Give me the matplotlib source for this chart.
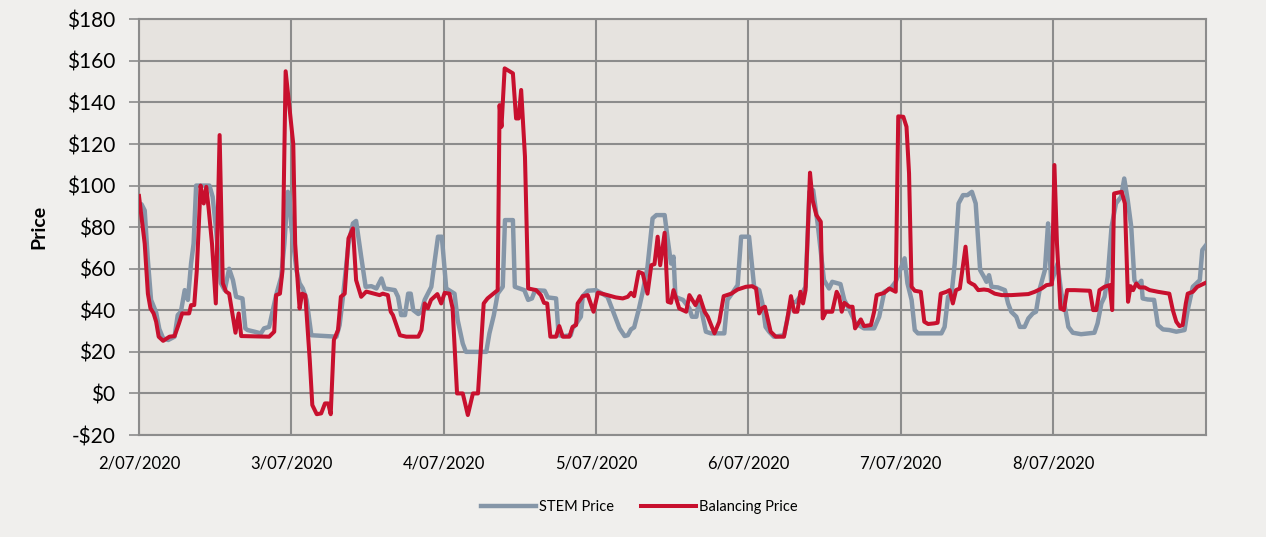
import matplotlib
matplotlib.use("Agg")
import matplotlib.pyplot as plt
from matplotlib.ticker import FuncFormatter

# hours since 2/07/2020 00:00
stem_hours = [0, 0.4, 0.9, 1.4, 1.9, 2.7, 3.2, 3.8, 4.6, 5.6, 6.1, 6.6, 7.2, 7.7, 8.2, 8.6, 9.0, 11.1, 11.6, 12.1,
              12.9, 13.5, 14.2, 14.8, 15.3, 16.3, 16.75, 17.1, 18.2, 19.2, 19.7, 20.5, 21.6, 22.4, 22.9, 23.45, 23.7, 24.0, 24.8, 25.3,
              25.8, 26.4, 27.15, 31.1, 31.6, 32.1, 33.0, 33.7, 34.2, 35.0, 35.7, 36.6, 37.4, 38.2, 38.7, 40.3, 40.8, 41.3, 41.9, 42.4,
              42.8, 43.2, 44.0, 44.5, 45.0, 46.05, 46.6, 47.1, 47.7, 48.4, 49.7, 50.2, 51.0, 51.5, 54.7, 55.2, 55.9, 56.5, 57.3, 57.65,
              58.9, 59.2, 60.7, 61.3, 61.9, 62.4, 63.9, 64.4, 65.7, 66.1, 67.0, 68.0, 68.3, 68.9, 69.6, 69.9, 70.7, 72.0, 73.8, 74.6,
              75.7, 76.5, 77.0, 77.5, 78.0, 78.7, 79.35, 80.1, 80.9, 81.5, 82.8, 83.3, 83.8, 84.2, 84.5, 85.1, 85.7, 86.7, 87.1, 87.8,
              88.3, 88.8, 89.3, 90.1, 92.2, 92.7, 93.4, 94.3, 94.85, 96.1, 96.9, 97.7, 98.2, 98.7, 99.25, 100.0, 101.6, 102.1, 102.7, 103.5,
              104.2, 105.0, 105.6, 106.2, 106.9, 107.9, 108.7, 109.2, 110.5, 111.1, 111.8, 112.9, 114.2, 115.8, 116.6, 117.4, 118.4, 119.2, 120.1, 120.6,
              121.05, 121.7, 122.2, 122.7, 126.4, 126.9, 127.45, 128.0, 128.5, 129.1, 129.8, 130.5, 131.2, 131.8, 132.5, 133.1, 133.5, 133.9, 134.3, 135.3,
              136.4, 136.9, 137.4, 138.2, 138.75, 139.5, 140.1, 140.8, 141.3, 141.9, 142.7, 143.2, 143.7, 144.7, 145.3, 145.8, 146.4, 147.1, 148.4, 150.5,
              151.0, 151.6, 152.1, 152.6, 153.2, 153.9, 154.7, 155.2, 155.75, 156.3, 156.8, 157.3, 157.9, 158.1, 158.9, 159.9, 160.5, 161.3, 162.3, 163.4,
              164.7, 165.2, 166.0, 167.1, 167.5, 168.0]
stem_price = [89, 91, 88, 64, 45, 39, 31, 26.5, 25.7, 27.3, 37.7, 39.3, 49.7, 45, 62.5, 72, 100, 100, 94.6, 80,
              53, 49.7, 60, 54.5, 46.5, 45.7, 31.3, 30.5, 29.7, 28.9, 31.3, 32, 47.3, 56, 72, 97, 94.6, 80, 59.3, 53,
              50.5, 45, 28, 27.3, 32.9, 45.7, 72, 81.8, 83, 65.8, 51.3, 51.6, 50.5, 55.3, 50.5, 49.7, 46.5, 37.7, 37.7, 48,
              48, 40.1, 38.2, 39.3, 45, 51.3, 64.2, 75.4, 75.4, 50.5, 48, 35.3, 24, 20, 20, 28.9, 37.7, 48, 51.3, 83.4,
              83.4, 51.3, 49.7, 45, 45.7, 49.7, 49.4, 46.2, 45.7, 28, 27.6, 28, 31.3, 33.7, 36.9, 46.8, 49.4, 49.7, 46.5, 40.1,
              31.3, 27.6, 28, 30.8, 31.8, 40.1, 48.9, 60.9, 84.2, 85.8, 85.8, 73.8, 62.5, 65.8, 46.5, 45.7, 45, 40.9, 36.9, 36.9,
              46.5, 36.9, 29.7, 28.9, 28.9, 45, 48, 52.1, 75.4, 75.4, 51.3, 49.7, 43.3, 32, 29.7, 27.3, 28, 35.3, 43.3, 44.1,
              46.8, 51.3, 97, 97.8, 81.8, 54.5, 50.5, 53.7, 52.6, 45, 40.9, 33.7, 31.3, 31.3, 36.9, 48.9, 50.5, 53.7, 61, 65,
              53, 45, 30.5, 28.9, 28.9, 32, 46.5, 48, 62.5, 91.4, 95.4, 95.4, 97, 91.4, 59.3, 56.1, 53.7, 56.9, 51.3, 51,
              49.7, 43.3, 39.3, 36.9, 32, 32, 36.1, 38.5, 39.3, 50.5, 59.3, 81.8, 53, 62.5, 48, 42.5, 32, 29.2, 28.5, 29.2,
              33.7, 43.3, 46.5, 56.1, 80.2, 91.4, 94.6, 103.4, 93, 80.2, 54.5, 52.1, 54.2, 45.7, 45.2, 45, 32.9, 30.8, 30.5, 29.7,
              30.5, 40.1, 51.3, 54.5, 69, 71]

bal_hours = [0, 0.9, 1.4, 1.8, 2.3, 2.7, 3.1, 3.8, 4.8, 5.6, 6.3, 6.8, 7.9, 8.2, 8.7, 9.1, 9.7, 10.2, 10.6, 11.0,
             11.5, 12.1, 12.7, 13.2, 13.7, 14.2, 15.2, 15.7, 16.1, 20.5, 21.3, 21.6, 22.2, 22.6, 23.1, 24.3, 24.6, 25.05, 25.3, 25.7,
             26.2, 26.9, 27.3, 28.0, 28.7, 29.3, 29.8, 30.2, 30.7, 31.35, 31.8, 32.4, 33.0, 33.7, 34.2, 35.0, 35.8, 37.9, 38.4, 39.2,
             39.65, 40.0, 41.1, 42.1, 44.0, 44.5, 45.0, 45.5, 46.0, 47.0, 47.6, 48.15, 48.9, 49.4, 50.1, 51.0, 51.8, 52.6, 53.4, 54.3,
             54.9, 56.5, 56.8, 57.1, 57.6, 58.9, 59.4, 59.8, 60.2, 60.8, 61.3, 62.55, 63.3, 63.8, 64.3, 64.8, 65.7, 66.2, 66.75, 67.8,
             68.3, 68.85, 69.1, 69.9, 70.7, 71.6, 72.3, 73.8, 75.1, 76.2, 77.0, 77.5, 78.0, 78.7, 79.35, 80.1, 80.7, 81.2, 81.7, 82.1,
             82.8, 83.3, 83.8, 84.2, 85.1, 86.2, 86.7, 87.65, 88.3, 89.1, 89.6, 90.65, 91.4, 92.1, 93.3, 94.3, 95.6, 96.6, 97.2, 97.7,
             98.1, 98.6, 99.5, 100.3, 101.6, 102.1, 102.7, 103.2, 103.7, 104.2, 104.6, 105.0, 105.7, 106.1, 106.7, 107.4, 107.7, 108.2, 109.2, 109.9,
             110.3, 110.7, 111.1, 111.9, 112.4, 112.8, 113.7, 114.2, 115.3, 115.8, 116.2, 117.4, 118.2, 119.2, 119.6, 120.4, 120.9, 121.3, 121.7, 122.2,
             123.15, 123.7, 124.3, 125.25, 125.8, 126.3, 127.2, 127.7, 128.2, 128.7, 129.3, 130.2, 130.7, 131.1, 131.6, 132.2, 133.1, 133.8, 134.8, 135.9,
             137.4, 140.1, 141.1, 142.2, 142.95, 143.8, 144.2, 144.6, 145.15, 145.7, 146.2, 147.4, 149.8, 150.3, 150.8, 151.3, 152.1, 152.9, 153.3, 153.6,
             154.8, 155.3, 155.8, 156.2, 156.6, 157.1, 157.6, 158.4, 159.2, 160.5, 162.3, 162.85, 163.4, 163.9, 164.4, 164.9, 165.2, 166.0, 166.7, 168.0]
bal_price = [95, 72, 48, 41, 38.5, 34.5, 27.3, 25.3, 27.3, 27.6, 33.7, 38.5, 38.5, 42.5, 42.5, 59, 100, 91.4, 99.4, 88,
             72, 43.3, 124.3, 53, 49, 48, 29.2, 38.5, 27.6, 27.3, 29.7, 47.3, 48, 59, 155, 120, 72, 51.3, 40.9, 48,
             47.3, 16, -5.6, -10, -9.6, -4.8, -4.8, -10, 25.7, 30.5, 46.5, 48, 74.6, 79.4, 54.5, 46.5, 49, 47.3, 48, 47.3,
             39.3, 37.7, 28, 27.3, 27.3, 30.5, 43.3, 41, 45, 47.8, 43.3, 48.4, 48, 41, 0, 0, -10.4, 0, 0, 43.3,
             45.7, 49.7, 138.7, 128.3, 156.4, 154, 132.3, 132.3, 146, 113.9, 50.5, 49.7, 47.3, 43.6, 43.3, 27.3, 27.3, 32.4, 27.3, 27.3,
             32, 32.9, 43.3, 46.8, 47.3, 39.3, 48.5, 47.3, 46.2, 45.7, 46.5, 48.4, 46.8, 58.5, 57.7, 48, 61.7, 62.2, 75.4, 61.7,
             77.3, 44.1, 43.6, 49.7, 40.9, 39.3, 47.3, 42.5, 46.8, 39.3, 36.9, 28.9, 34.5, 46.8, 48, 50, 51.3, 51.6, 50.5, 38.5,
             40.9, 41.7, 29.7, 27.3, 27.3, 35.3, 46.8, 39.3, 39.3, 48.9, 43.3, 49.7, 106.2, 93, 85.8, 82.6, 36.1, 39.3, 39.3, 48.9,
             46.5, 39.3, 43.6, 41.7, 41.7, 31.3, 35.6, 32.4, 32.9, 39.3, 47.3, 48.4, 50.5, 48.9, 133.3, 133.1, 128.3, 105.9, 51.3, 49.4,
             48.9, 34.5, 33.4, 33.7, 34, 48, 48.9, 49.7, 43.3, 49.7, 50.5, 70.6, 53.7, 52.9, 52.1, 49.7, 50, 49.7, 48, 47.3,
             47.3, 47.8, 48.9, 50.5, 52.1, 52.5, 109.9, 72.2, 40.9, 40.1, 49.7, 49.7, 49.4, 40.1, 40.1, 49.7, 51.3, 52.1, 40.1, 96.2,
             97, 91.4, 44.1, 51.6, 49.7, 52.9, 51, 51, 49.7, 48.9, 48, 40.1, 34.5, 32.4, 32.9, 43.3, 48, 48.9, 51.3, 53.2]

day_labels = ["2/07/2020", "3/07/2020", "4/07/2020", "5/07/2020", "6/07/2020", "7/07/2020", "8/07/2020"]

plt.rcParams["font.family"] = ["Lato", "DejaVu Sans"]

fig = plt.figure(figsize=(12.66, 5.37), dpi=100, facecolor="#f0efed")
ax = fig.add_axes([139 / 1266, 1 - 435 / 537, (1205.5 - 139) / 1266, (435 - 19.3) / 537])
ax.set_facecolor("#e6e3df")

ax.plot(stem_hours, stem_price, color="#8596a8", lw=3.2, solid_joinstyle="round", label="STEM Price", zorder=3)
ax.plot(bal_hours, bal_price, color="#c8102e", lw=2.9, solid_joinstyle="round", label="Balancing Price", zorder=4)

ax.set_xlim(0, 168)
ax.set_ylim(-20, 180)
ax.set_yticks(range(-20, 181, 20))
ax.yaxis.set_major_formatter(FuncFormatter(lambda v, p: ("-$%d" % -v) if v < 0 else "$%d" % v))
ax.set_xticks(range(0, 168, 24))
ax.set_xticklabels(day_labels)

ax.grid(True, color="#8c8c8c", lw=1.5, zorder=1)
ax.set_axisbelow(True)
for s in ax.spines.values():
    s.set_color("#8c8c8c")
    s.set_linewidth(1.5)

ax.tick_params(axis="y", length=7, width=1.2, color="#8c8c8c", labelsize=15, pad=10)
ax.tick_params(axis="x", length=0, labelsize=12, pad=15)
ax.set_ylabel("Price", fontsize=14, fontweight="bold", labelpad=14)

fig.legend(loc="center", bbox_to_anchor=(0.505, 0.056), ncol=2, frameon=False,
           fontsize=10.5, handlelength=3.8, columnspacing=1.8, handletextpad=0.2)

fig.savefig("out.png", dpi=100, facecolor=fig.get_facecolor())
